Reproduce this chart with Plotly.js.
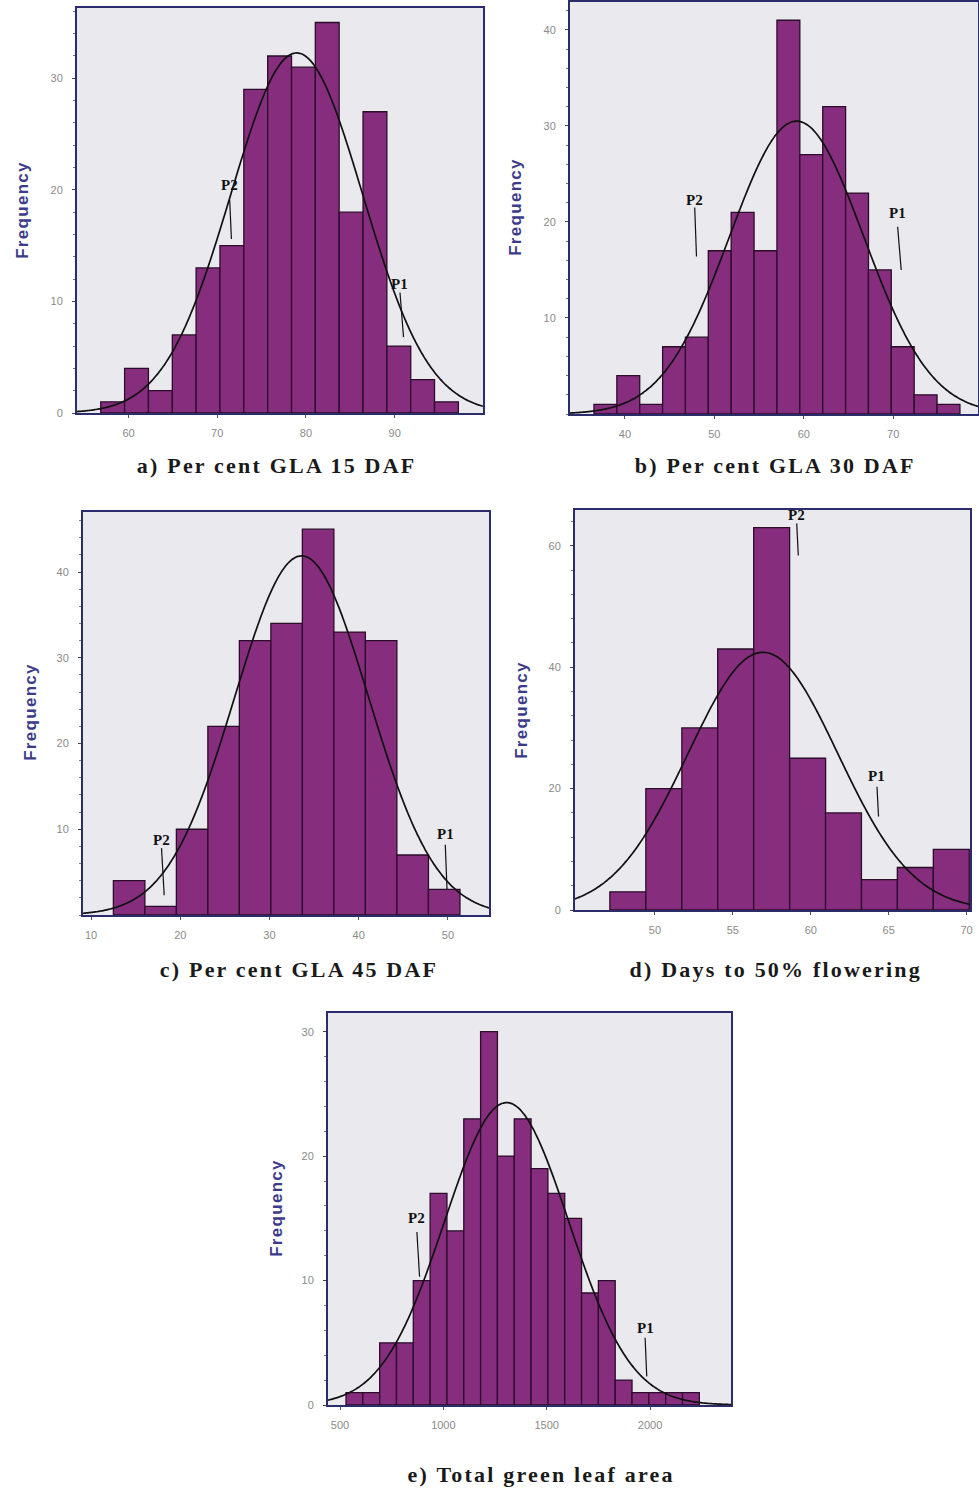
<!DOCTYPE html>
<html>
<head>
<meta charset="utf-8">
<script src="https://cdn.plot.ly/plotly-3.0.1.min.js"></script>
<style>
  html, body { margin: 0; padding: 0; background: #ffffff; }
  #chart { width: 979px; height: 1490px; }
  g.annotation[data-index="0"] text, g.annotation[data-index="1"] text,
  g.annotation[data-index="2"] text, g.annotation[data-index="3"] text,
  g.annotation[data-index="4"] text { letter-spacing: 2.2px; }
  g.annotation[data-index="5"] text, g.annotation[data-index="6"] text,
  g.annotation[data-index="7"] text, g.annotation[data-index="8"] text,
  g.annotation[data-index="9"] text { letter-spacing: 1.3px; }
</style>
</head>
<body>
<div id="chart"></div>
<script>
// ---------------- DATA ----------------
// a) Per cent GLA 15 DAF
const binCentersA = [58.21, 60.90, 63.59, 66.28, 68.96, 71.65, 74.34, 77.03, 79.72, 82.40, 85.09, 87.78, 90.47, 93.15, 95.84];
const countsA     = [1, 4, 2, 7, 13, 15, 29, 32, 31, 35, 18, 27, 6, 3, 1];
const binWidthA   = 2.687;
const meanA = 78.96, sdA = 7.44;
const parentLabelsA = ['P2', 'P1'];
const parentXA      = [71.4, 90.6];

// b) Per cent GLA 30 DAF
const binCentersB = [37.81, 40.37, 42.93, 45.49, 48.04, 50.60, 53.16, 55.72, 58.28, 60.84, 63.40, 65.96, 68.51, 71.07, 73.63, 76.19];
const countsB     = [1, 4, 1, 7, 8, 17, 21, 17, 41, 27, 32, 23, 15, 7, 2, 1];
const binWidthB   = 2.559;
const meanB = 59.2, sdB = 7.5;
const parentLabelsB = ['P2', 'P1'];
const parentXB      = [47.8, 70.5];

// c) Per cent GLA 45 DAF
const binCentersC = [14.27, 17.80, 21.33, 24.86, 28.39, 31.92, 35.45, 38.98, 42.51, 46.05, 49.58];
const countsC     = [4, 1, 10, 22, 32, 34, 45, 33, 32, 7, 3];
const binWidthC   = 3.531;
const meanC = 33.6, sdC = 7.5;
const parentLabelsC = ['P2', 'P1'];
const parentXC      = [17.9, 49.7];

// d) Days to 50% flowering
const binCentersD = [48.26, 50.57, 52.88, 55.18, 57.49, 59.80, 62.10, 64.41, 66.71, 69.02];
const countsD     = [3, 20, 30, 43, 63, 25, 16, 5, 7, 10];
const binWidthD   = 2.306;
const meanD = 56.93, sdD = 4.81;
const parentLabelsD = ['P2', 'P1'];
const parentXD      = [59.1, 64.25];

// e) Total green leaf area
const binCentersE = [569.7, 651.1, 732.5, 813.9, 895.3, 976.7, 1058.1, 1139.5, 1220.9, 1302.3, 1383.7, 1465.1, 1546.5, 1627.9, 1709.3, 1790.7, 1872.1, 1953.5, 2034.9, 2116.3, 2197.7];
const countsE     = [1, 1, 5, 5, 10, 17, 14, 23, 30, 20, 23, 19, 17, 15, 9, 10, 2, 1, 1, 1, 1];
const binWidthE   = 81.4;
const meanE = 1306, sdE = 300.7;
const parentLabelsE = ['P2', 'P1'];
const parentXE      = [872, 1976];

const subtitles = ['a) Per cent GLA 15 DAF', 'b) Per cent GLA 30 DAF', 'c) Per cent GLA 45 DAF',
                   'd) Days to 50% flowering', 'e) Total green leaf area'];
const xTicksA = [60, 70, 80, 90];
const xTicksB = [40, 50, 60, 70];
const xTicksC = [10, 20, 30, 40, 50];
const xTicksD = [50, 55, 60, 65, 70];
const xTicksE = [500, 1000, 1500, 2000];
const yTicksA = [0, 10, 20, 30];
const yTicksB = [10, 20, 30, 40];
const yTicksC = [10, 20, 30, 40];
const yTicksD = [0, 20, 40, 60];
const yTicksE = [0, 10, 20, 30];

// ---------------- LAYOUT / DRAWING ----------------
const W = 979, H = 1490;
const BAR = '#872d7e', BAR_LINE = '#2b0c2a', BOX = '#2c2c6c', BG = '#e9e9ee';

const panels = [
  { c: binCentersA, n: countsA, w: binWidthA, m: meanA, s: sdA, pl: parentLabelsA, px: parentXA, xt: xTicksA, yt: yTicksA,
    box: [77, 483, 8, 413], xr: [54.19, 99.96], yr: [0, 36.3], ydt: 2,
    labY: [20.4, 11.6], lineTop: [19.1, 10.8], lineBot: [15.6, 6.8], lineDx: [0.2, 0.4],
    freq: [22, 210], sub: [276, 466] },
  { c: binCentersB, n: countsB, w: binWidthB, m: meanB, s: sdB, pl: parentLabelsB, px: parentXB, xt: xTicksB, yt: yTicksB,
    box: [570, 978, 2, 414], xr: [33.85, 79.49], yr: [0, 42.9], ydt: 2,
    labY: [22.3, 20.9], lineTop: [21.5, 19.5], lineBot: [16.4, 15.0], lineDx: [0.2, 0.4],
    freq: [515, 207], sub: [775, 466] },
  { c: binCentersC, n: countsC, w: binWidthC, m: meanC, s: sdC, pl: parentLabelsC, px: parentXC, xt: xTicksC, yt: yTicksC,
    box: [83, 489, 512, 915], xr: [9.10, 54.6], yr: [0, 47.0], ydt: 2,
    labY: [8.8, 9.5], lineTop: [7.8, 8.2], lineBot: [2.3, 2.9], lineDx: [0.3, 0.2],
    freq: [30, 712], sub: [299, 970] },
  { c: binCentersD, n: countsD, w: binWidthD, m: meanD, s: sdD, pl: parentLabelsD, px: parentXD, xt: xTicksD, yt: yTicksD,
    box: [575, 970, 510, 910], xr: [44.87, 70.22], yr: [0, 65.9], ydt: 4,
    labY: [65.0, 22.1], lineTop: [63.7, 20.3], lineBot: [58.4, 15.4], lineDx: [0.1, 0.1],
    freq: [521, 710], sub: [776, 970] },
  { c: binCentersE, n: countsE, w: binWidthE, m: meanE, s: sdE, pl: parentLabelsE, px: parentXE, xt: xTicksE, yt: yTicksE,
    box: [328, 731, 1013, 1405], xr: [441.9, 2391.6], yr: [0, 31.5], ydt: 2,
    labY: [15.0, 6.2], lineTop: [13.9, 5.4], lineBot: [10.3, 2.3], lineDx: [13, 8],
    freq: [276, 1208], sub: [541, 1474] }
];

const traces = [];
const layout = {
  width: W, height: H,
  margin: { l: 0, r: 0, t: 0, b: 0 },
  paper_bgcolor: '#ffffff',
  showlegend: false,
  annotations: [],
  shapes: []
};

// subtitles first (annotation indices 0..4), then Frequency (5..9)
panels.forEach((p, i) => {
  layout.annotations.push({
    xref: 'paper', yref: 'paper', x: p.sub[0] / W, y: 1 - p.sub[1] / H,
    text: '<b>' + subtitles[i] + '</b>', showarrow: false, xanchor: 'center', yanchor: 'middle',
    font: { family: 'Liberation Serif, Times New Roman, serif', size: 22, color: '#1a1a1a' }
  });
});
panels.forEach((p, i) => {
  layout.annotations.push({
    xref: 'paper', yref: 'paper', x: p.freq[0] / W, y: 1 - p.freq[1] / H,
    text: '<b>Frequency</b>', showarrow: false, textangle: -90, xanchor: 'center', yanchor: 'middle',
    font: { family: 'Liberation Sans, Arial, sans-serif', size: 17, color: '#3b3b8a' }
  });
});

panels.forEach((p, i) => {
  const k = i === 0 ? '' : String(i + 1);
  const xa = 'x' + k, ya = 'y' + k;
  const N = p.n.reduce((a, b) => a + b, 0);

  traces.push({
    type: 'bar', x: p.c, y: p.n, width: p.w, xaxis: xa, yaxis: ya,
    marker: { color: BAR, line: { color: BAR_LINE, width: 1.3 } },
    hoverinfo: 'x+y'
  });

  // fitted normal curve (mean, sd and N of the sample, scaled to bin width)
  const xs = [], ys = [];
  const steps = 240;
  for (let j = 0; j <= steps; j++) {
    const x = p.xr[0] + (p.xr[1] - p.xr[0]) * j / steps;
    const z = (x - p.m) / p.s;
    xs.push(x);
    ys.push(N * p.w / (p.s * Math.sqrt(2 * Math.PI)) * Math.exp(-0.5 * z * z));
  }
  traces.push({
    type: 'scatter', mode: 'lines', x: xs, y: ys, xaxis: xa, yaxis: ya,
    line: { color: '#111111', width: 1.7, shape: 'spline' }, hoverinfo: 'skip'
  });

  const [x0, x1, y0, y1] = p.box;
  layout['xaxis' + k] = {
    domain: [x0 / W, x1 / W], range: p.xr, anchor: ya,
    showline: true, mirror: true, linecolor: BOX, linewidth: 2,
    showgrid: false, zeroline: false,
    ticks: 'outside', ticklen: 3, tickcolor: '#555555', tickwidth: 1, ticklabelstandoff: 6,
    tickvals: p.xt, ticktext: p.xt.map(String),
    tickfont: { family: 'Liberation Sans, Arial, sans-serif', size: 11, color: '#8a8a8a' },
    fixedrange: true
  };
  layout['yaxis' + k] = {
    domain: [1 - y1 / H, 1 - y0 / H], range: p.yr, anchor: xa,
    showline: true, mirror: true, linecolor: BOX, linewidth: 2,
    showgrid: false, zeroline: false,
    ticks: 'outside', ticklen: 3, tickcolor: '#444444', tickwidth: 1, ticklabelstandoff: 7,
    tickvals: p.yt, ticktext: p.yt.map(String),
    tickfont: { family: 'Liberation Sans, Arial, sans-serif', size: 11, color: '#8a8a8a' },
    minor: { dtick: p.ydt, tick0: 0, ticks: 'outside', ticklen: 2, tickcolor: '#777777', showgrid: false },
    fixedrange: true
  };
  layout.shapes.push({
    type: 'rect', xref: xa + ' domain', yref: ya + ' domain', x0: 0, x1: 1, y0: 0, y1: 1,
    fillcolor: BG, line: { width: 0 }, layer: 'below'
  });

  p.pl.forEach((lab, j) => {
    layout.annotations.push({
      xref: xa, yref: ya, x: p.px[j], y: p.labY[j], text: '<b>' + lab + '</b>', showarrow: false,
      xanchor: 'center', yanchor: 'middle',
      font: { family: 'Liberation Serif, Times New Roman, serif', size: 15, color: '#111111' }
    });
    layout.shapes.push({
      type: 'line', xref: xa, yref: ya,
      x0: p.px[j], y0: p.lineTop[j], x1: p.px[j] + p.lineDx[j], y1: p.lineBot[j],
      line: { color: '#111111', width: 1.2 }
    });
  });
});

Plotly.newPlot('chart', traces, layout, { displayModeBar: false, staticPlot: true });
</script>
</body>
</html>
